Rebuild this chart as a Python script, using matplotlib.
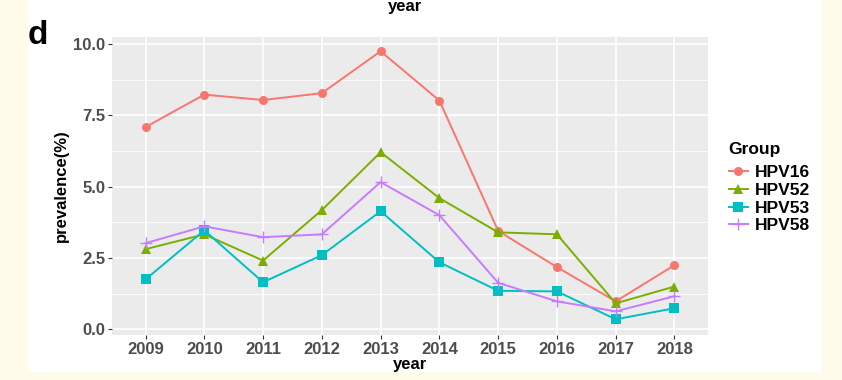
import numpy as np
import matplotlib.pyplot as plt
from matplotlib.patches import Rectangle
from matplotlib.lines import Line2D

plt.rcParams['font.family'] = ['Liberation Sans', 'DejaVu Sans']

years = [2009, 2010, 2011, 2012, 2013, 2014, 2015, 2016, 2017, 2018]
hpv16 = [7.09, 8.23, 8.04, 8.28, 9.75, 8.02, 3.45, 2.18, 0.98, 2.25]
hpv52 = [2.81, 3.33, 2.41, 4.18, 6.21, 4.60, 3.40, 3.33, 0.91, 1.50]
hpv53 = [1.75, 3.47, 1.65, 2.60, 4.14, 2.35, 1.35, 1.33, 0.35, 0.74]
hpv58 = [3.02, 3.61, 3.23, 3.33, 5.16, 4.00, 1.63, 0.98, 0.63, 1.16]
groups = ['HPV16', 'HPV52', 'HPV53', 'HPV58']
colores = ['#F8766D', '#7CAE00', '#00BFC4', '#C77CFF']
marcadores = ['o', '^', 's', '+']
yticks = [0.0, 2.5, 5.0, 7.5, 10.0]

fig = plt.figure(figsize=(8.42, 3.80), dpi=100)
fig.patch.set_facecolor('#fffbea')
# zona blanca detras del grafico
fig.patches.append(Rectangle((28/842, 8/380), (822-28)/842, 1 - 8/380,
                             transform=fig.transFigure, facecolor='white',
                             edgecolor='none', zorder=-5))

ax = fig.add_axes([112/842, 45/380, (708-112)/842, (335-37)/380])
ax.set_zorder(2)
ax.set_facecolor('#ebebeb')
for s in ax.spines.values():
    s.set_visible(False)

x = np.arange(len(years))
for vals, c, m in zip([hpv16, hpv52, hpv53, hpv58], colores, marcadores):
    ms = 9 if m == '+' else 6.5
    ax.plot(x, vals, color=c, lw=1.4, marker=m, markersize=ms,
            markeredgewidth=1.0 if m == '+' else 0, zorder=3)

ax.set_xlim(-0.57, 9.57)
ax.set_ylim(-0.2, 10.25)
ax.set_xticks(x)
ax.set_xticklabels(years)
ax.set_yticks(yticks)
ax.set_yticklabels([f'{v:.1f}' for v in yticks])
ax.set_yticks([1.25, 3.75, 6.25, 8.75], minor=True)
ax.grid(True, which='major', color='white', lw=1.2, zorder=1)
ax.grid(True, which='minor', axis='y', color='white', lw=0.6, zorder=1)
ax.set_axisbelow(True)
ax.tick_params(axis='both', which='major', length=3, width=0.8, color='#333333',
               labelsize=12, labelcolor='#4d4d4d', pad=2)
ax.tick_params(axis='y', which='minor', length=0)
for lab in ax.get_xticklabels() + ax.get_yticklabels():
    lab.set_fontweight('bold')

ax.set_xlabel('year', fontsize=12, fontweight='bold', labelpad=0)
ax.set_ylabel('prevalence(%)', fontsize=12, fontweight='bold', labelpad=3)

fig.text(405/842, 1 - 7/380, 'year', fontsize=12, fontweight='bold',
         ha='center', va='center')
fig.text(38/842, 1 - 36/380, 'd', fontsize=24, fontweight='bold',
         ha='center', va='center')

handles = [Line2D([0], [0], color=c, lw=1.4, marker=m,
                  markersize=9 if m == '+' else 6.5,
                  markeredgewidth=1.0 if m == '+' else 0)
           for c, m in zip(colores, marcadores)]
leg = fig.legend(handles, groups, title='Group', loc='upper left',
                 bbox_to_anchor=(713/842, 1 - 126/380), frameon=False,
                 handlelength=1.1, handletextpad=0.4, labelspacing=0.15,
                 prop={'size': 12.5, 'weight': 'bold'},
                 title_fontproperties={'size': 12.5, 'weight': 'bold'})
leg._legend_box.align = 'left'
leg._legend_box.sep = 6

fig.savefig('out.png', dpi=100, facecolor=fig.get_facecolor())
